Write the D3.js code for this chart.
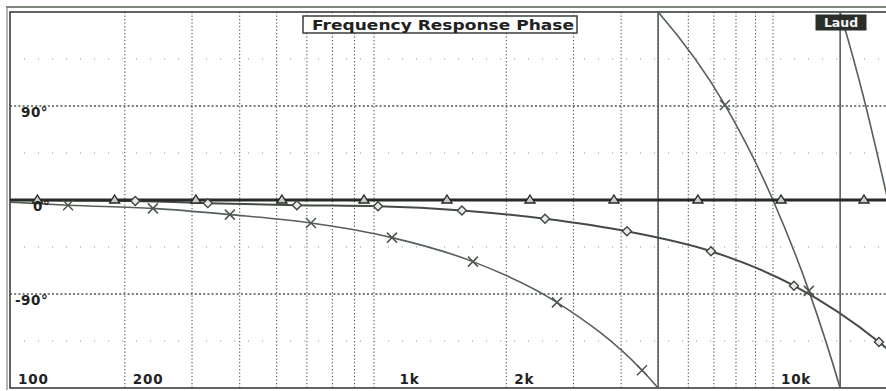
<!DOCTYPE html>
<html>
<head>
<meta charset="utf-8">
<script src="https://cdn.jsdelivr.net/npm/d3@7"></script>
<style>
  html, body { margin: 0; padding: 0; background: #fff; }
  svg { display: block; }
  text { font-family: "DejaVu Sans", "Liberation Sans", sans-serif; font-weight: bold; fill: #222; }
</style>
</head>
<body>
<svg id="chart" width="886" height="391"></svg>
<script>
// ---------- data ----------
const title = "Frequency Response Phase";
const legendLabel = "Laud";

const xTickFreqs  = [100, 200, 1000, 2000, 10000];
const xTickLabels = ["100", "200", "1k", "2k", "10k"];
const gridFreqs   = [200, 300, 400, 500, 600, 700, 800, 900,
                     2000, 3000, 4000, 5000, 6000, 7000, 8000, 9000, 10000];

const yTickValues = [90, 0, -90];
const yTickLabels = ["90°", "0°", "-90°"];
const minorPhase  = [135, 45, -45, -135];

// flat curve (triangles)
const triFreq   = [100, 20000];
const triPhase  = [0, 0];
const triMarks  = [118, 188, 307, 516, 847, 1398, 2307, 3830, 6357, 10500, 17320];

// slowly falling curve (diamonds)
const diaFreq   = [100, 213, 330, 565, 922, 1530, 2526, 4143, 6878, 11350, 18960, 20000];
const diaPhase  = [0, -1, -3, -5, -6, -10, -18, -30, -49, -82, -136, -143];
const diaMarks  = [213, 330, 565, 922, 1530, 2526, 4143, 6878, 11350, 18960];

// steep curve (crosses), unwrapped phase in degrees
const crsFreq   = [100, 142, 237, 377, 615, 1003, 1635, 2715, 4536, 5000, 7482, 10000, 12420, 15000, 17320, 20000];
const crsPhase  = [-2, -5, -8, -14, -22, -36, -59, -98, -163, -180, -269, -360, -447, -540, -623, -720];
const crsMarks  = [142, 237, 377, 615, 1003, 1635, 2715, 4536, 7482, 12420];

// ---------- layout ----------
const svg = d3.select("#chart");
const pL = 10, pT = 12, pR = 887.8, pB = 388;
const x = d3.scaleLog().domain([100, 20000]).range([pL, pR]);
const y = d3.scaleLinear().domain([-180, 180]).range([pB, pT]);

svg.append("rect").attr("width", 886).attr("height", 391).attr("fill", "#fff");

svg.append("defs").append("clipPath").attr("id", "plot")
  .append("rect").attr("x", pL).attr("y", pT)
  .attr("width", pR - pL).attr("height", pB - pT);

// ---------- grid ----------
const grid = svg.append("g");
grid.selectAll("line.v").data(gridFreqs).join("line")
  .attr("x1", d => x(d)).attr("x2", d => x(d))
  .attr("y1", pT).attr("y2", pB)
  .attr("stroke", "#4f544f").attr("stroke-width", 1.1)
  .attr("stroke-dasharray", "1.2,2.3");
grid.selectAll("line.h").data(yTickValues).join("line")
  .attr("x1", pL).attr("x2", pR)
  .attr("y1", d => y(d)).attr("y2", d => y(d))
  .attr("stroke", "#4f544f").attr("stroke-width", 1.3)
  .attr("stroke-dasharray", "2,2.2");
grid.selectAll("line.m").data(minorPhase).join("line")
  .attr("x1", pL).attr("x2", pR)
  .attr("y1", d => y(d)).attr("y2", d => y(d))
  .attr("stroke", "#8a8f8a").attr("stroke-width", 1)
  .attr("stroke-dasharray", "1,13");

// ---------- frame ----------
svg.append("line").attr("x1", 6).attr("x2", 886).attr("y1", 7).attr("y2", 7)
  .attr("stroke", "#7d857d").attr("stroke-width", 2);
svg.append("line").attr("x1", 7).attr("x2", 7).attr("y1", 7).attr("y2", 390)
  .attr("stroke", "#7d857d").attr("stroke-width", 1.2);
svg.append("rect").attr("x", pL).attr("y", pT)
  .attr("width", pR - pL).attr("height", pB - pT)
  .attr("fill", "none").attr("stroke", "#3a3f3a").attr("stroke-width", 1.6);

// ---------- curves ----------
const plot = svg.append("g").attr("clip-path", "url(#plot)");
const line = d3.line().x(d => x(d[0])).y(d => y(d[1])).curve(d3.curveMonotoneX);

function interpPhase(freqs, phases, f) {
  const lf = Math.log10(f);
  for (let i = 1; i < freqs.length; i++) {
    const a = Math.log10(freqs[i - 1]), b = Math.log10(freqs[i]);
    if (lf <= b) {
      const t = (lf - a) / (b - a);
      return phases[i - 1] + t * (phases[i] - phases[i - 1]);
    }
  }
  return phases[phases.length - 1];
}
const wrap = p => p - 360 * Math.floor((p + 180) / 360);

function drawSeries(freqs, phases, color, width) {
  const pts = freqs.map((f, i) => [f, phases[i]]);
  const minP = d3.min(phases);
  const nWraps = Math.max(0, Math.ceil((-180 - minP) / 360 + 1e-9));
  for (let k = 0; k <= nWraps; k++) {
    plot.append("path")
      .attr("d", line(pts.map(d => [d[0], d[1] + 360 * k])))
      .attr("fill", "none").attr("stroke", color)
      .attr("stroke-width", width).attr("stroke-linejoin", "round");
  }
  for (let n = 0; n < nWraps; n++) {
    const bnd = -180 - 360 * n;
    for (let i = 1; i < phases.length; i++) {
      if (phases[i] <= bnd && phases[i - 1] > bnd) {
        const t = (bnd - phases[i - 1]) / (phases[i] - phases[i - 1]);
        const lf = Math.log10(freqs[i - 1]) + t * (Math.log10(freqs[i]) - Math.log10(freqs[i - 1]));
        const xx = x(Math.pow(10, lf));
        plot.append("line").attr("x1", xx).attr("x2", xx)
          .attr("y1", pB).attr("y2", pT)
          .attr("stroke", color).attr("stroke-width", width);
        break;
      }
    }
  }
}

drawSeries(crsFreq, crsPhase, "#566056", 1.6);
drawSeries(diaFreq, diaPhase, "#454b45", 2);
drawSeries(triFreq, triPhase, "#262b26", 3);

// ---------- markers ----------
const mk = svg.append("g").attr("clip-path", "url(#plot)");
mk.selectAll("path.cross").data(crsMarks).join("path")
  .attr("transform", d => `translate(${x(d)},${y(wrap(interpPhase(crsFreq, crsPhase, d)))})`)
  .attr("d", "M-5,-5L5,5M-5,5L5,-5")
  .attr("stroke", "#4f564f").attr("stroke-width", 1.5).attr("fill", "none");
mk.selectAll("path.dia").data(diaMarks).join("path")
  .attr("transform", d => `translate(${x(d)},${y(wrap(interpPhase(diaFreq, diaPhase, d)))})`)
  .attr("d", "M0,-4.5L4.5,0L0,4.5L-4.5,0Z")
  .attr("stroke", "#3f453f").attr("stroke-width", 1.4).attr("fill", "#e8ece8");
mk.selectAll("path.tri").data(triMarks).join("path")
  .attr("transform", d => `translate(${x(d)},${y(wrap(interpPhase(triFreq, triPhase, d)))})`)
  .attr("d", "M0,-5L5,3L-5,3Z")
  .attr("stroke", "#262b26").attr("stroke-width", 1.4).attr("fill", "#c8cdc8");

// ---------- axis labels ----------
const ytx = [21, 33, 15];
svg.selectAll("text.y").data(yTickValues).join("text")
  .attr("x", (d, i) => ytx[i]).attr("y", d => y(d) + 11)
  .attr("font-size", 13.5).attr("letter-spacing", 0.5)
  .text((d, i) => yTickLabels[i]);

svg.selectAll("text.x").data(xTickFreqs).join("text")
  .attr("x", d => x(d) + 8).attr("y", 384)
  .attr("font-size", 13.5).attr("letter-spacing", 0.8)
  .text((d, i) => xTickLabels[i]);

// ---------- title box ----------
svg.append("rect").attr("x", 303).attr("y", 16).attr("width", 274).attr("height", 17)
  .attr("fill", "#fff").attr("stroke", "#3a3f3a").attr("stroke-width", 1.5);
svg.append("text").attr("x", 312).attr("y", 29.5)
  .attr("font-size", 13.5).attr("textLength", 262).attr("lengthAdjust", "spacingAndGlyphs")
  .text(title);

// ---------- legend box ----------
svg.append("rect").attr("x", 816).attr("y", 15).attr("width", 50).attr("height", 15)
  .attr("fill", "#2a2f2a").attr("stroke", "#2a2f2a").attr("stroke-width", 1);
svg.append("text").attr("x", 841).attr("y", 27).attr("text-anchor", "middle")
  .attr("font-size", 12.5).style("fill", "#f4f4f4").text(legendLabel);
</script>
</body>
</html>
